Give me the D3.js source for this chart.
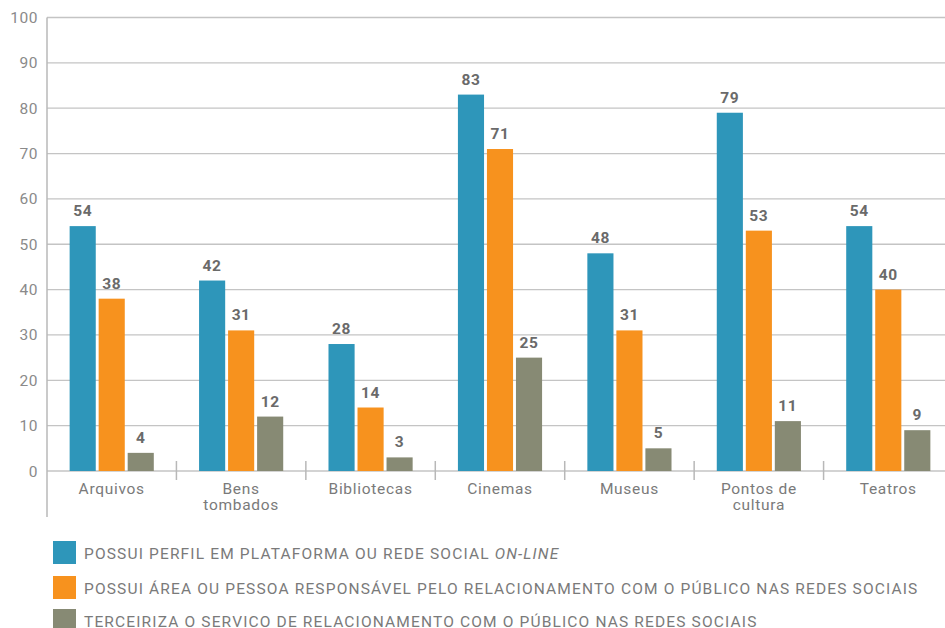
<!DOCTYPE html>
<html>
<head>
<meta charset="utf-8">
<script src="https://cdn.jsdelivr.net/npm/d3@7"></script>
<style>
  html, body { margin: 0; padding: 0; background: #fff; }
  svg { display: block; font-family: "Roboto", "Liberation Sans", sans-serif; }
</style>
</head>
<body>
<svg id="chart" width="945" height="628"></svg>
<script>
// Categories (second line of a label after "\n")
const categories = ["Arquivos", "Bens\ntombados", "Bibliotecas", "Cinemas", "Museus", "Pontos de\ncultura", "Teatros"];
const seriesNames = ["perfil", "area", "terceiriza"];
const perfilValues = [54, 42, 28, 83, 48, 79, 54];
const areaValues = [38, 31, 14, 71, 31, 53, 40];
const terceirizaValues = [4, 12, 3, 25, 5, 11, 9];
const yTicks = [0, 10, 20, 30, 40, 50, 60, 70, 80, 90, 100];
const legendLabels = [
  [{ t: "POSSUI PERFIL EM PLATAFORMA OU REDE SOCIAL " }, { t: "ON-LINE", italic: true }],
  [{ t: "POSSUI ÁREA OU PESSOA RESPONSÁVEL PELO RELACIONAMENTO COM O PÚBLICO NAS REDES SOCIAIS" }],
  [{ t: "TERCEIRIZA O SERVICO DE RELACIONAMENTO COM O PÚBLICO NAS REDES SOCIAIS" }]
];
const colors = ["#2E96BA", "#F7921E", "#878A74"];

const seriesValues = [perfilValues, areaValues, terceirizaValues];
const svg = d3.select("#chart");

const plotLeft = 47, plotRight = 953, plotTop = 17.5, plotBottom = 471;

const x = d3.scaleBand().domain(categories).range([plotLeft, plotRight]);
const xInner = d3.scaleBand().domain(seriesNames)
  .range([0, x.bandwidth()]).paddingInner(0.1).paddingOuter(0.78);
const y = d3.scaleLinear().domain([0, 100]).range([plotBottom, plotTop]);

// Gridlines
svg.append("g").selectAll("line").data(yTicks).join("line")
  .attr("x1", plotLeft).attr("x2", 945)
  .attr("y1", d => y(d)).attr("y2", d => y(d))
  .attr("stroke", "#c4c4c4").attr("stroke-width", 1.3);

// Y tick labels
svg.append("g").selectAll("text").data(yTicks).join("text")
  .attr("x", 38).attr("y", d => y(d) + 5.5)
  .attr("text-anchor", "end")
  .attr("font-size", 15.5).attr("fill", "#8a8a8a").attr("letter-spacing", 0.5)
  .text(d => d);

// Y axis line
svg.append("line").attr("x1", plotLeft).attr("x2", plotLeft)
  .attr("y1", plotTop).attr("y2", 517)
  .attr("stroke", "#b8b8b8").attr("stroke-width", 1.5);

// Category separators
svg.append("g").selectAll("line").data(categories.slice(1)).join("line")
  .attr("x1", d => x(d)).attr("x2", d => x(d))
  .attr("y1", plotBottom - 10).attr("y2", plotBottom + 9)
  .attr("stroke", "#b8b8b8").attr("stroke-width", 1.5);

// Bars and value labels
const groups = svg.append("g").selectAll("g").data(categories).join("g")
  .attr("transform", d => `translate(${x(d)},0)`);

const cells = (d, i) => seriesNames.map((s, j) => ({ s, v: seriesValues[j][i], j }));

groups.selectAll("rect").data(cells).join("rect")
  .attr("x", d => xInner(d.s))
  .attr("width", xInner.bandwidth())
  .attr("y", d => y(d.v))
  .attr("height", d => y(0) - y(d.v))
  .attr("fill", d => colors[d.j]);

groups.selectAll("text.val").data(cells).join("text")
  .attr("class", "val")
  .attr("x", d => xInner(d.s) + xInner.bandwidth() / 2)
  .attr("y", d => y(d.v) - 10)
  .attr("text-anchor", "middle")
  .attr("font-size", 15.5).attr("font-weight", "bold").attr("fill", "#6a6a6a")
  .attr("letter-spacing", 0.6)
  .text(d => d.v);

// Category labels
const catLabels = svg.append("g").selectAll("text").data(categories).join("text")
  .attr("x", d => x(d) + x.bandwidth() / 2)
  .attr("y", 494)
  .attr("text-anchor", "middle")
  .attr("font-size", 15.5).attr("fill", "#7a7a7a").attr("letter-spacing", 0.7);
catLabels.selectAll("tspan").data(d => d.split("\n")).join("tspan")
  .attr("x", function () { return d3.select(this.parentNode).attr("x"); })
  .attr("dy", (d, i) => i === 0 ? 0 : 16)
  .text(d => d);

// Legend
const legendY = [541, 576, 609];
const legend = svg.append("g").selectAll("g").data(legendLabels).join("g")
  .attr("transform", (d, i) => `translate(53,${legendY[i]})`);
legend.append("rect").attr("width", 23).attr("height", 23)
  .attr("fill", (d, i) => colors[i]);
const lt = legend.append("text").attr("x", 31).attr("y", 17.5)
  .attr("font-size", 15.5).attr("fill", "#7a7a7a").attr("letter-spacing", 1.15);
lt.selectAll("tspan").data(d => d).join("tspan")
  .attr("font-style", d => d.italic ? "italic" : "normal")
  .text(d => d.t);
</script>
</body>
</html>
